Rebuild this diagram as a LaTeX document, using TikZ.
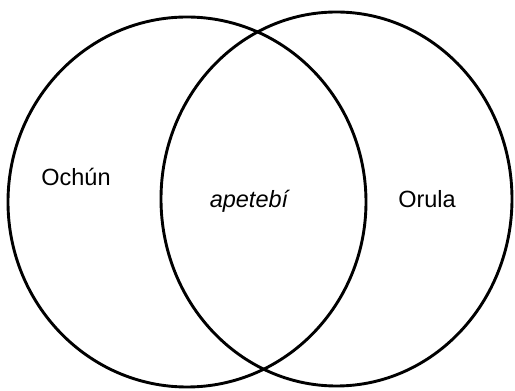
\documentclass[tikz,border=0pt]{standalone}
\usepackage{fontspec}
\setmainfont{Liberation Sans}
\begin{document}
\begin{tikzpicture}[x=1pt,y=1pt,
  setring/.style={draw=black,line width=2.9pt},
  lbl/.style={font=\fontsize{23.5}{27}\selectfont,inner sep=0pt}]
\useasboundingbox (0,0) rectangle (515,391);
\draw[setring] (187,189) ellipse [x radius=179, y radius=185];
\draw[setring] (336.5,192) ellipse [x radius=175.5, y radius=187];
\node[lbl] (ochun) at (76,214) {Ochún};
\node[lbl,font=\fontsize{23.5}{27}\selectfont\itshape] (apetebi) at (249,190) {apetebí};
\node[lbl] (orula) at (427,192) {Orula};
\end{tikzpicture}
\end{document}
